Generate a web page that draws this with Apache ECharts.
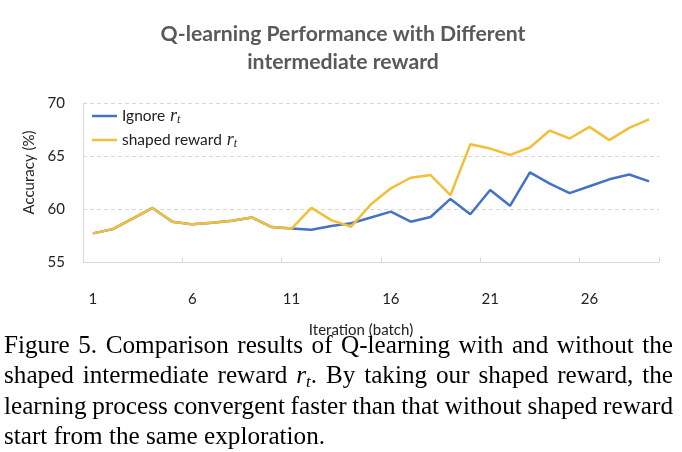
<!DOCTYPE html>
<html>
<head>
<meta charset="utf-8">
<script src="https://cdn.jsdelivr.net/npm/echarts@6/dist/echarts.min.js"></script>
<style>
	html, body { margin: 0; padding: 0; background: #fff; }
	#wrap { position: relative; width: 682px; height: 452px; overflow: hidden; }
	#chart { position: absolute; left: 0; top: 0; width: 682px; height: 452px; }
	#caption {
		position: absolute; left: 4px; top: 329.5px; width: 669px;
		font-family: 'Liberation Serif', 'Times New Roman', serif;
		font-size: 25.2px; line-height: 30.6px; color: #000;
	}
	#caption div { white-space: nowrap; text-align: justify; text-align-last: justify; }
	#caption div.tight { word-spacing: -1.2px; }
	#caption div.last { text-align: left; text-align-last: left; }
	#caption i { font-style: italic; }
	#caption sub { font-size: 17px; line-height: 0; vertical-align: -4px; }
</style>
</head>
<body>
<div id="wrap">
	<div id="chart"></div>
	<div id="caption">
		<div>Figure 5. Comparison results of Q-learning with and without the</div>
		<div>shaped intermediate reward <i>r</i><sub><i>t</i></sub>. By taking our shaped reward, the</div>
		<div class="tight">learning process convergent faster than that without shaped reward</div>
		<div class="last">start from the same exploration.</div>
	</div>
</div>
<script>
// 数据
let categories = [];
for (let i = 1; i <= 29; i++) categories.push(String(i)); // 迭代批次 1..29
let ignore_rt = [57.7, 58.1, 59.1, 60.1, 58.8, 58.55, 58.7, 58.9, 59.2, 58.3, 58.15, 58.05, 58.4, 58.65, 59.2, 59.75, 58.8, 59.25, 60.95, 59.5, 61.8, 60.3, 63.45, 62.4, 61.5, 62.15, 62.8, 63.25, 62.6];
let shaped_rt = [57.7, 58.1, 59.1, 60.1, 58.8, 58.55, 58.7, 58.9, 59.2, 58.3, 58.15, 60.1, 58.95, 58.33, 60.45, 61.95, 62.95, 63.2, 61.3, 66.1, 65.7, 65.1, 65.8, 67.4, 66.65, 67.75, 66.5, 67.65, 68.45];
let y_ticks = { min: 55, max: 70, interval: 5 };

let font = 'Lato, "Open Sans", sans-serif';
let rich = {
	a: { fontFamily: font, fontSize: 15.5, color: '#222' },
	m: { fontFamily: '"Liberation Serif", serif', fontStyle: 'italic', fontSize: 18, color: '#222', padding: [0, 0, 0, 5] },
	s: { fontFamily: '"Liberation Serif", serif', fontStyle: 'italic', fontSize: 12, color: '#222', padding: [8, 0, 0, 0] },
};

let chart = echarts.init(document.getElementById('chart'));
chart.setOption({
	backgroundColor: '#fff',
	animation: false,
	title: {
		text: 'Q-learning Performance with Different\nintermediate reward',
		left: 338,
		top: 15,
		textAlign: 'center',
		textStyle: { fontFamily: font, fontSize: 21.2, fontWeight: 'bold', color: '#595959', lineHeight: 28.4 },
	},
	legend: {
		orient: 'vertical',
		left: 92,
		top: 107,
		padding: 0,
		itemWidth: 25,
		itemHeight: 2.5,
		itemGap: 5,
		data: [
			{ name: 'Ignore', icon: 'rect' },
			{ name: 'shaped reward', icon: 'rect' },
		],
		formatter: (name) => `{a|${name}}{m|r}{s|t}`,
		textStyle: { rich: rich },
	},
	grid: { left: 83, right: 23, top: 103, bottom: 190 },
	xAxis: {
		type: 'category',
		data: categories,
		boundaryGap: true,
		name: 'Iteration (batch)',
		nameLocation: 'middle',
		nameGap: 61,
		nameTextStyle: { fontFamily: font, fontSize: 15, color: '#222', padding: [0, 20, 0, 0] },
		axisLine: { lineStyle: { color: '#d9d9d9', width: 1 } },
		axisTick: { show: true, interval: 4, inside: true, length: 5, lineStyle: { color: '#d9d9d9' } },
		axisLabel: { interval: 4, margin: 30, fontFamily: font, fontSize: 15, color: '#222' },
		splitLine: { show: false },
	},
	yAxis: {
		type: 'value',
		min: y_ticks.min,
		max: y_ticks.max,
		interval: y_ticks.interval,
		name: 'Accuracy (%)',
		nameLocation: 'middle',
		nameGap: 44,
		nameTextStyle: { fontFamily: font, fontSize: 15, color: '#222', padding: [0, 0, 0, 20] },
		axisLine: { show: true, lineStyle: { color: '#d9d9d9', width: 1 } },
		axisTick: { show: false },
		axisLabel: { margin: 18, fontFamily: font, fontSize: 15, color: '#222' },
		splitLine: { show: true, lineStyle: { color: '#d9d9d9', type: [4, 3] } },
	},
	series: [
		{
			name: 'Ignore',
			type: 'line',
			data: ignore_rt,
			symbol: 'none',
			lineStyle: { width: 2.5, color: '#4472C4' },
			itemStyle: { color: '#4472C4' },
			z: 2,
		},
		{
			name: 'shaped reward',
			type: 'line',
			data: shaped_rt,
			symbol: 'none',
			lineStyle: { width: 2.5, color: '#F2BF3A' },
			itemStyle: { color: '#F2BF3A' },
			z: 3,
		},
	],
});
</script>
</body>
</html>
